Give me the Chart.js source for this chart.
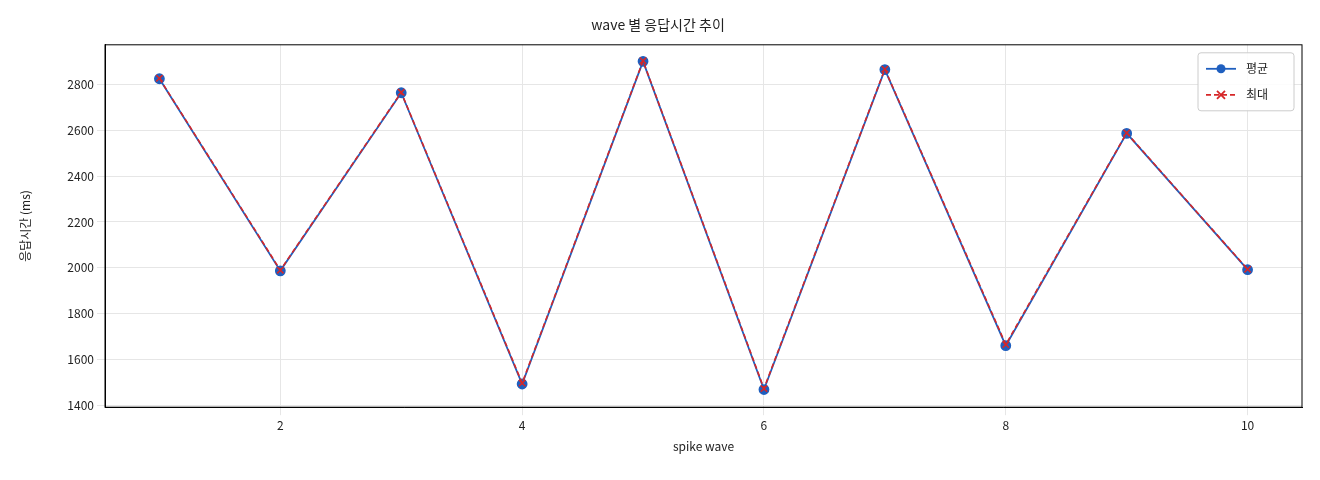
<!DOCTYPE html>
<html><head><meta charset="utf-8">
<script src="https://cdn.jsdelivr.net/npm/chart.js@4"></script>
<style>html,body{margin:0;background:#fff}#w{width:1320px;height:480px}</style>
</head><body><div id="w"><canvas id="c"></canvas></div>
<script>
const waves=[1,2,3,4,5,6,7,8,9,10];
const avgValues=[2824,1987,2763,1494,2900,1470,2864,1661,2586,1992];
const maxValues=[2826,1990,2765,1498,2902,1474,2866,1666,2588,1994];
const xTicks=[2,4,6,8,10];
const yTicks=[1400,1600,1800,2000,2200,2400,2600,2800];
const FONT="'Noto Sans CJK KR','DejaVu Sans',sans-serif";
Chart.defaults.font.family=FONT;
Chart.defaults.color='#222';
const frame={id:'frame',afterDatasetsDraw(ch){
  const {ctx,chartArea:a}=ch;ctx.save();
  ctx.strokeStyle='#000';ctx.lineWidth=1;ctx.strokeRect(a.left,a.top,a.right-a.left,a.bottom-a.top);
  // legend
  const ds=ch.data.datasets;const w=96,h=58,x=a.right-w-8,y=a.top+8;
  ctx.fillStyle='rgba(255,255,255,0.85)';ctx.strokeStyle='#ccc';
  ctx.beginPath();ctx.roundRect(x,y,w,h,3);ctx.fill();ctx.stroke();
  ds.forEach((d,i)=>{const ly=y+16+i*26;
    ctx.strokeStyle=d.borderColor;ctx.lineWidth=1.8;ctx.setLineDash(d.borderDash||[]);
    ctx.beginPath();ctx.moveTo(x+8,ly);ctx.lineTo(x+38,ly);ctx.stroke();ctx.setLineDash([]);
    ctx.fillStyle=d.borderColor;
    if(i===0){ctx.beginPath();ctx.arc(x+23,ly,4.5,0,Math.PI*2);ctx.fill();}
    else{ctx.beginPath();ctx.moveTo(x+19,ly-4);ctx.lineTo(x+27,ly+4);ctx.moveTo(x+27,ly-4);ctx.lineTo(x+19,ly+4);ctx.stroke();}
    ctx.fillStyle='#222';ctx.font='12px '+FONT;ctx.textBaseline='middle';ctx.fillText(d.label,x+48,ly);
  });
  ctx.restore();}};
new Chart(document.getElementById('c'),{
type:'line',
data:{datasets:[
{label:'평균',order:2,data:waves.map((x,i)=>({x,y:avgValues[i]})),borderColor:'#1f5fbf',backgroundColor:'#1f5fbf',borderWidth:1.8,pointRadius:4.5,pointStyle:'circle'},
{label:'최대',order:1,data:waves.map((x,i)=>({x,y:maxValues[i]})),borderColor:'#d62728',backgroundColor:'#d62728',borderWidth:1.6,borderDash:[5,3],pointRadius:4.5,pointStyle:'crossRot',pointBorderWidth:1.6}
]},
plugins:[frame],
options:{responsive:true,maintainAspectRatio:false,animation:false,
layout:{padding:{left:14,right:18,top:6,bottom:22}},
plugins:{title:{display:true,text:'wave 별 응답시간 추이',font:{size:14,weight:'normal'},padding:{top:10,bottom:12}},
legend:{display:false},tooltip:{enabled:false}},
scales:{
x:{type:'linear',min:0.55,max:10.45,grid:{color:'#e6e6e6'},border:{color:'#000'},
afterBuildTicks:a=>{a.ticks=xTicks.map(v=>({value:v}))},ticks:{font:{size:12},callback:v=>String(v)},
title:{display:true,text:'spike wave',font:{size:12}}},
y:{min:1393,max:2972,grid:{color:'#e6e6e6'},border:{color:'#000'},
afterBuildTicks:a=>{a.ticks=yTicks.map(v=>({value:v}))},ticks:{font:{size:12},callback:v=>String(v)},
afterFit:a=>{a.width=91},
title:{display:true,text:'응답시간 (ms)',font:{size:12}}}
}}});
</script></body></html>
